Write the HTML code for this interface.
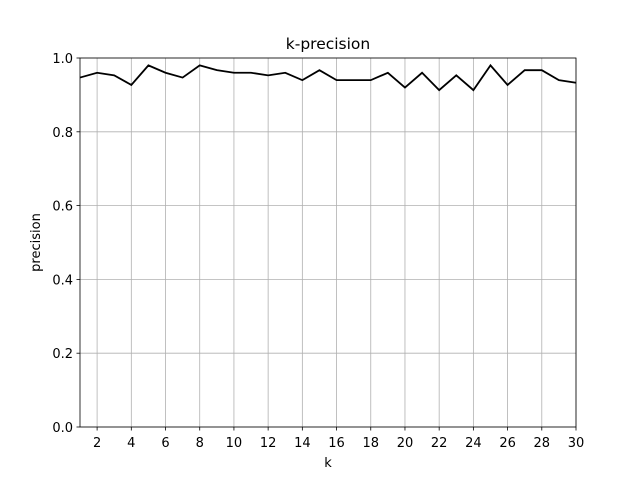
<!DOCTYPE html>
<html><head><meta charset="utf-8"><style>body{margin:0;background:#fff}svg{font-family:"DejaVu Sans","Liberation Sans",sans-serif}</style></head>
<body>
<svg id="chart" width="640" height="480"></svg>
<script>
const ks=[1,2,3,4,5,6,7,8,9,10,11,12,13,14,15,16,17,18,19,20,21,22,23,24,25,26,27,28,29,30];
const precision=[0.947,0.96,0.953,0.927,0.98,0.96,0.947,0.98,0.967,0.96,0.96,0.953,0.96,0.94,0.967,0.94,0.94,0.94,0.96,0.92,0.96,0.913,0.953,0.913,0.98,0.927,0.967,0.967,0.94,0.933];
const xTicks=[2,4,6,8,10,12,14,16,18,20,22,24,26,28,30];
const yTicks=[0,0.2,0.4,0.6,0.8,1.0];
const L=80,R=576,T=58,B=427;
const xs=v=>L+(v-1)/29*(R-L), ys=v=>B-v*(B-T);
const svg=document.getElementById('chart');const NS='http://www.w3.org/2000/svg';
function mk(t,a,p){const e=document.createElementNS(NS,t);for(const k in a)e.setAttribute(k,a[k]);(p||svg).appendChild(e);return e;}
let g=mk('g',{});


xTicks.forEach(t=>{const x=xs(t);mk('line',{x1:x,x2:x,y1:T,y2:B,stroke:'#b0b0b0','stroke-width':0.8},g);
 mk('line',{x1:x,x2:x,y1:B,y2:B+3.5,stroke:'#000','stroke-width':0.8});
 const tx=mk('text',{x:x,y:B+20,'text-anchor':'middle','font-size':13});tx.textContent=t;
 
 });
yTicks.forEach(t=>{const y=ys(t);mk('line',{x1:L,x2:R,y1:y,y2:y,stroke:'#b0b0b0','stroke-width':0.8},g);
 mk('line',{x1:L-3.5,x2:L,y1:y,y2:y,stroke:'#000','stroke-width':0.8});
 const tx=mk('text',{x:L-7,y:y+5,'text-anchor':'end','font-size':13});tx.textContent=t.toFixed(1);
 
 });
const ln=mk('polyline',{points:ks.map((k,i)=>xs(k)+','+ys(precision[i])).join(' '),fill:'none',stroke:'#000','stroke-width':1.8});


const fr=mk('rect',{x:L,y:T,width:R-L,height:B-T,fill:'none',stroke:'#000','stroke-width':0.8});


let t=mk('text',{x:(L+R)/2,y:T-9,'text-anchor':'middle','font-size':15.5});t.textContent='k-precision';


t=mk('text',{x:(L+R)/2,y:467,'text-anchor':'middle','font-size':13});t.textContent='k';


t=mk('text',{x:40,y:(T+B)/2,'text-anchor':'middle','font-size':13,transform:'rotate(-90 40 '+(T+B)/2+')'});t.textContent='precision';


</script>
</body></html>
